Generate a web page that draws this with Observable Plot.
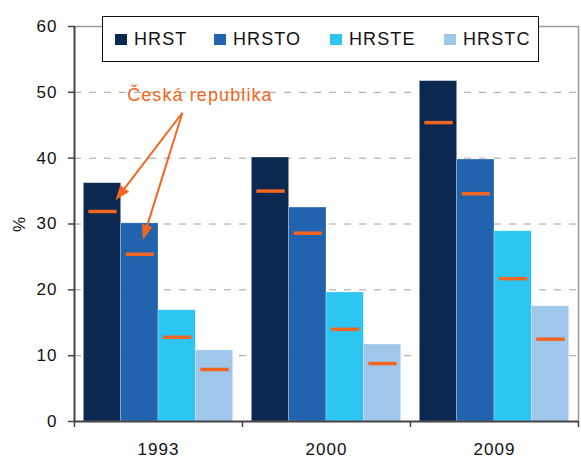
<!DOCTYPE html>
<html>
<head>
<meta charset="utf-8">
<script src="https://cdn.jsdelivr.net/npm/d3@7"></script>
<script src="https://cdn.jsdelivr.net/npm/@observablehq/plot@0.6"></script>
<style>
  body { margin: 0; background: #fff; }
  #wrap { position: relative; width: 581px; height: 459px; font-family: "Liberation Sans", Arial, sans-serif; }
  #legend { position: absolute; left: 102px; top: 16px; width: 437px; height: 46px; box-sizing: border-box;
            border: 1px solid #111; background: #fff; }
  .item { position: absolute; top: 0; height: 44px; display: flex; align-items: center; font-size: 18px; letter-spacing: 1.1px; color: #111; }
  .sw { width: 12px; height: 11px; margin-right: 7px; }
</style>
</head>
<body>
<div id="wrap"></div>
<script>
const years = ["1993", "2000", "2009"];
const series = ["HRST", "HRSTO", "HRSTE", "HRSTC"];
const colors = ["#0a2850", "#2163ae", "#2dc6f3", "#9ec7e9"];
// EU values (bars)
const valHRST  = [36.2, 40.1, 51.7];
const valHRSTO = [30.1, 32.5, 39.8];
const valHRSTE = [16.9, 19.6, 28.9];
const valHRSTC = [10.8, 11.7, 17.5];
// Česká republika values (orange markers)
const czHRST  = [31.9, 35.0, 45.4];
const czHRSTO = [25.4, 28.6, 34.6];
const czHRSTE = [12.8, 14.0, 21.7];
const czHRSTC = [7.9, 8.8, 12.5];
const yTicks = [0, 10, 20, 30, 40, 50, 60];
// annotation
const annoLabel = "Česká republika";
const annoPos = [3.36, 49.6];
const arrowFrom = [2.89, 46.9];
const arrowTo = [[1.10, 33.6], [1.83, 27.6]];

const vals = [valHRST, valHRSTO, valHRSTE, valHRSTC];
const czs = [czHRST, czHRSTO, czHRSTE, czHRSTC];
const span = series.length + 0.5;
const pad = 0.25;
const data = [];
years.forEach((y, g) => series.forEach((s, j) => data.push({year: y, series: s, value: vals[j][g], cz: czs[j][g], g, j})));
const x1 = d => d.g * span + pad + d.j;
const x2 = d => d.g * span + pad + d.j + 1;
const xMax = years.length * span;
const orange = "#f26522";

const dims = {width: 581, height: 459, marginLeft: 74, marginRight: 3, marginTop: 26, marginBottom: 38};
const xOpt = {domain: [0, xMax], axis: null};
const yOpt = {domain: [0, 60], axis: null};

// filled, slender arrow head (points up before rotation; tip 10px from centre, base 5px behind)
const headSymbol = {draw(ctx) { ctx.moveTo(0, -10); ctx.lineTo(5.5, 5); ctx.lineTo(-5.5, 5); ctx.closePath(); }};

// probe the scales to orient the arrow heads in screen space
const probe = Plot.plot({...dims, x: xOpt, y: yOpt, marks: []});
const sx = probe.scale("x"), sy = probe.scale("y");
const heads = arrowTo.map(([tx, ty]) => {
  const px0 = sx.apply(arrowFrom[0]), py0 = sy.apply(arrowFrom[1]);
  const px1 = sx.apply(tx), py1 = sy.apply(ty);
  const L = Math.hypot(px1 - px0, py1 - py0);
  const ux = (px1 - px0) / L, uy = (py1 - py0) / L;
  return {
    cx: sx.invert(px1 - ux * 10), cy: sy.invert(py1 - uy * 10),
    lx: sx.invert(px1 - ux * 13), ly: sy.invert(py1 - uy * 13),
    rot: Math.atan2(ux, -uy) * 180 / Math.PI
  };
});

const chart = Plot.plot({
  ...dims,
  style: {fontFamily: "Liberation Sans, Arial, sans-serif", fontSize: "17px", color: "#111", background: "#fff"},
  x: xOpt,
  y: yOpt,
  color: {domain: series, range: colors},
  marks: [
    Plot.ruleY(yTicks.filter(t => t > 0 && t < 60), {stroke: "#a0a0a0", strokeWidth: 1, strokeDasharray: "7,8"}),
    Plot.ruleY([60], {stroke: "#9a9a9a", strokeWidth: 1.5}),
    Plot.ruleX([xMax], {stroke: "#9a9a9a", strokeWidth: 1.5}),
    Plot.rect(data, {x1, x2, y1: 0, y2: "value", fill: "series", stroke: "#fff", strokeOpacity: 0.35, strokeWidth: 0.8}),
    Plot.ruleY(data, {x1, x2, y: "cz", stroke: orange, strokeWidth: 3.5, insetLeft: 5, insetRight: 4}),
    Plot.ruleY([0], {stroke: "#444", strokeWidth: 2}),
    Plot.ruleX([0], {stroke: "#444", strokeWidth: 2}),
    Plot.axisY({ticks: yTicks, tickSize: 6, tickPadding: 11, stroke: "#444", strokeWidth: 1.5, fontSize: 17,
                label: "%", labelAnchor: "center", labelOffset: 62, labelArrow: "none"}),
    Plot.axisX({ticks: d3.range(years.length + 1).map(i => i * span), tickSize: 6, tickFormat: () => "", stroke: "#444", strokeWidth: 1.5}),
    Plot.axisX({ticks: years.map((y, i) => i * span + span / 2), tickSize: 0, tickPadding: 21, tickFormat: (d, i) => years[i], fontSize: 17}),
    Plot.link(heads, {x1: () => arrowFrom[0], y1: () => arrowFrom[1], x2: "lx", y2: "ly", stroke: orange, strokeWidth: 2}),
    Plot.dot(heads, {x: "cx", y: "cy", rotate: "rot", symbol: headSymbol, r: 6, fill: orange, stroke: "none"}),
    Plot.text([annoLabel], {x: () => annoPos[0], y: () => annoPos[1], text: d => d, fill: orange, fontSize: 18})
  ]
});
chart.querySelectorAll("text").forEach(t => t.style.letterSpacing = "1.1px");
const wrap = document.getElementById("wrap");
wrap.appendChild(chart);

const legend = document.createElement("div");
legend.id = "legend";
const lefts = [12, 111, 227, 341];
series.forEach((s, i) => {
  const it = document.createElement("div");
  it.className = "item";
  it.style.left = lefts[i] + "px";
  const sw = document.createElement("div");
  sw.className = "sw";
  sw.style.background = colors[i];
  it.appendChild(sw);
  it.appendChild(document.createTextNode(s));
  legend.appendChild(it);
});
wrap.appendChild(legend);
</script>
</body>
</html>
